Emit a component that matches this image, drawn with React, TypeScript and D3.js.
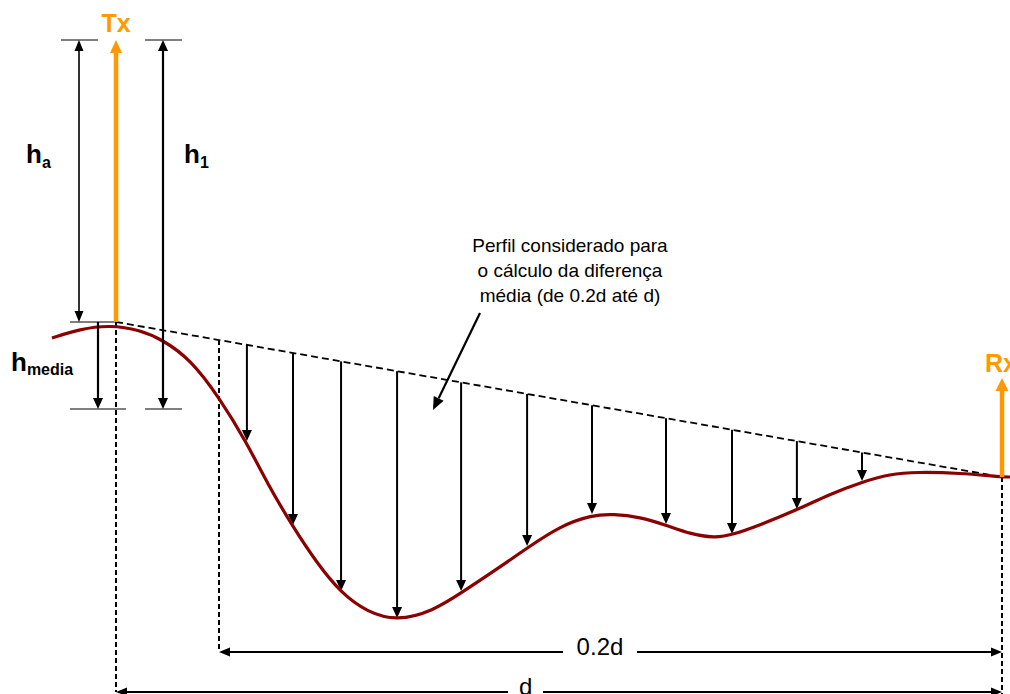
import React from "react";
import * as d3 from "d3";

// Terrain profile: distance (km) from Tx, elevation (m)
const profileDist = [-2.89, -1.63, -0.27, 1.08, 2.12, 3.34, 4.65, 5.91, 6.82, 7.99, 9.07, 10.16, 11.33, 12.69, 14.31, 15.58, 17.34, 18.56, 20.05, 21.49, 22.44, 23.66, 24.83, 25.91, 27.04, 27.81, 29.07, 30.74, 32.23, 33.68, 34.94, 36.16, 38.1, 40, 40.36];
const profileElev = [151, 155.5, 157.5, 155, 150, 140.5, 121.5, 98.5, 78.5, 56.5, 38.5, 23.5, 14, 9.5, 14.5, 23.5, 36.5, 46, 57, 62.5, 63, 61.5, 57.5, 53, 51, 52.5, 57.5, 65, 73, 79, 83, 84, 83.5, 81.5, 81.5];

// Sample points where the difference is measured (from 0.2d to d)
const sampleDist = [5.91, 7.99, 10.16, 12.69, 15.58, 18.56, 21.49, 24.83, 27.81, 30.74, 33.68];
const sampleElev = [99.5, 57.5, 24.5, 11, 24.5, 47, 63, 58, 53, 65.5, 79.5];

// Link geometry
const totalDist = 40; // d
const startDist = 4.65; // start of averaged section (0.2d)
const txBase = 159;
const txTop = 300;
const rxBase = 81.5;
const rxTop = 131;
const hMedia = 115.5;
const dimLevel02 = -6;
const dimLevelD = -26;

const labels = {
  tx: "Tx",
  rx: "Rx",
  note: ["Perfil considerado para", "o cálculo da diferença", "média (de 0.2d até d)"],
  d02: "0.2d",
  d: "d",
};

const ORANGE = "#FF9900";
const RED = "#8B0000";
const FONT = "'Liberation Sans', Arial, Helvetica, sans-serif";

function head(x1: number, y1: number, x2: number, y2: number, len: number, w: number) {
  const dx = x2 - x1, dy = y2 - y1;
  const L = Math.hypot(dx, dy);
  const ux = dx / L, uy = dy / L;
  const bx = x2 - ux * len, by = y2 - uy * len;
  const px = -uy * w / 2, py = ux * w / 2;
  return {
    pts: `${x2},${y2} ${bx + px},${by + py} ${bx - px},${by - py}`,
    bx, by,
  };
}

function Arrow({ x1, y1, x2, y2, both = false, color = "#000", sw = 2, len = 11, w = 10 }: any) {
  const h2 = head(x1, y1, x2, y2, len, w);
  const h1 = both ? head(x2, y2, x1, y1, len, w) : null;
  const sx = h1 ? h1.bx : x1, sy = h1 ? h1.by : y1;
  return (
    <g>
      <line x1={sx} y1={sy} x2={h2.bx} y2={h2.by} stroke={color} strokeWidth={sw} />
      <polygon points={h2.pts} fill={color} />
      {h1 && <polygon points={h1.pts} fill={color} />}
    </g>
  );
}

export default function App() {
  const xS = d3.scaleLinear().domain([0, totalDist]).range([116, 1002]);
  const yS = d3.scaleLinear().domain([0, 300]).range([640, 40]);

  const pts: [number, number][] = profileDist.map((d, i) => [xS(d), yS(profileElev[i])]);
  const terrain = d3.line().curve(d3.curveBasis)(pts) || "";

  const losY = (d: number) => yS(txBase + (rxBase - txBase) * (d / totalDist));

  const tx = xS(0), rx = xS(totalDist), x02 = xS(startDist);
  const yTxTop = yS(txTop), yTxBase = yS(txBase), yHm = yS(hMedia);
  const y02 = yS(dimLevel02), yD = yS(dimLevelD);

  const xHa = tx - 37, xHm = tx - 18, xH1 = tx + 47;

  return (
    <svg width={1010} height={694} style={{ position: "absolute", left: 0, top: 0, background: "#fff" }} fontFamily={FONT}>
      <rect x={0} y={0} width={1010} height={694} fill="#fff" />

      {/* vertical dashed reference lines */}
      <line x1={tx} y1={yTxBase} x2={tx} y2={yD} stroke="#000" strokeWidth={2} strokeDasharray="5,3" />
      <line x1={x02} y1={losY(startDist)} x2={x02} y2={y02} stroke="#000" strokeWidth={2} strokeDasharray="5,3" />
      <line x1={rx} y1={yS(rxBase)} x2={rx} y2={694} stroke="#000" strokeWidth={2} strokeDasharray="5,3" />

      {/* line of sight */}
      <line x1={tx} y1={yTxBase} x2={rx} y2={yS(rxBase)} stroke="#000" strokeWidth={1.8} strokeDasharray="7,4" />

      {/* difference arrows */}
      {sampleDist.map((d, i) => (
        <Arrow key={i} x1={xS(d)} y1={losY(d)} x2={xS(d)} y2={yS(sampleElev[i])} sw={2} len={11} w={10} />
      ))}

      {/* terrain */}
      <path d={terrain} fill="none" stroke={RED} strokeWidth={3.2} />

      {/* height dimension ticks */}
      <line x1={61} y1={yTxTop} x2={98} y2={yTxTop} stroke="#000" strokeWidth={1} />
      <line x1={145} y1={yTxTop} x2={182} y2={yTxTop} stroke="#000" strokeWidth={1} />
      <line x1={70} y1={yTxBase} x2={tx + 1} y2={yTxBase} stroke="#000" strokeWidth={1.2} />
      <line x1={70} y1={yHm} x2={126} y2={yHm} stroke="#000" strokeWidth={1.2} />
      <line x1={145} y1={yHm} x2={182} y2={yHm} stroke="#000" strokeWidth={1.2} />

      <Arrow x1={xHa} y1={yTxBase} x2={xHa} y2={yTxTop} both sw={1.6} len={11} w={9} />
      <Arrow x1={xHm} y1={yTxBase} x2={xHm} y2={yHm} sw={2.2} len={11} w={10} />
      <Arrow x1={xH1} y1={yHm} x2={xH1} y2={yTxTop} both sw={2.2} len={11} w={10} />

      {/* antennas */}
      <Arrow x1={tx} y1={yTxBase} x2={tx} y2={yTxTop} color={ORANGE} sw={4.5} len={13} w={12} />
      <Arrow x1={rx} y1={yS(rxBase)} x2={rx} y2={yS(rxTop)} color={ORANGE} sw={4.5} len={13} w={13} />
      <text x={tx} y={32} textAnchor="middle" fill={ORANGE} fontWeight="bold" fontSize={25}>{labels.tx}</text>
      <text x={985} y={372} fill={ORANGE} fontWeight="bold" fontSize={25}>{labels.rx}</text>

      {/* height labels */}
      <text x={26} y={163} fontWeight="bold" fontSize={26} fill="#000">h<tspan fontSize={16} dy={5}>a</tspan></text>
      <text x={184} y={163} fontWeight="bold" fontSize={26} fill="#000">h<tspan fontSize={16} dy={5}>1</tspan></text>
      <text x={11} y={371} fontWeight="bold" fontSize={26} fill="#000">h<tspan fontSize={16} dy={4}>media</tspan></text>

      {/* annotation */}
      {labels.note.map((t, i) => (
        <text key={i} x={570} y={252 + i * 25} textAnchor="middle" fontSize={19} fill="#000">{t}</text>
      ))}
      <Arrow x1={480} y1={313} x2={433} y2={410} sw={2.2} len={13} w={11} />

      {/* distance dimensions */}
      <Arrow x1={x02} y1={y02} x2={rx} y2={y02} both sw={2} len={11} w={9} />
      <rect x={563} y={y02 - 14} width={74} height={28} fill="#fff" />
      <text x={xS(21.85)} y={y02 + 3} textAnchor="middle" fontSize={24} fill="#000">{labels.d02}</text>

      <Arrow x1={tx} y1={yD} x2={rx} y2={yD} both sw={2} len={11} w={9} />
      <rect x={508} y={yD - 14} width={35} height={20} fill="#fff" />
      <text x={xS(18.5)} y={yD + 3} textAnchor="middle" fontSize={24} fill="#000">{labels.d}</text>
    </svg>
  );
}
